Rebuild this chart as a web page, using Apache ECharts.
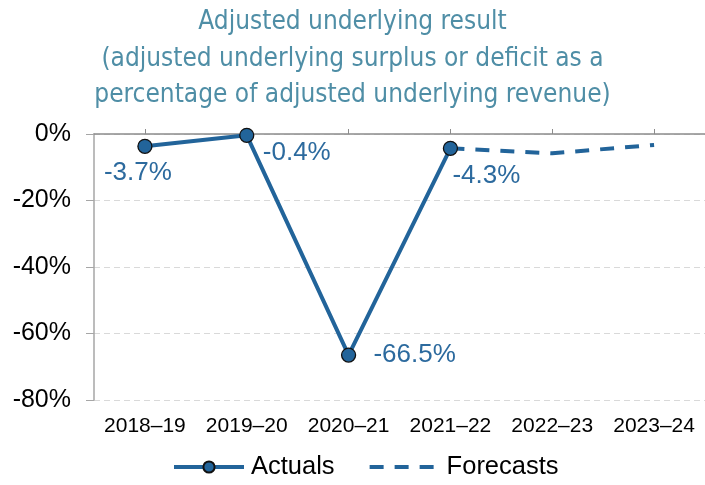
<!DOCTYPE html>
<html><head><meta charset="utf-8">
<script src="https://cdn.jsdelivr.net/npm/echarts@6/dist/echarts.min.js"></script>
<style>html,body{margin:0;padding:0;background:#fff}#c{width:705px;height:485px}</style>
</head><body><div id="c"></div>
<script>
const categories = ['2018–19','2019–20','2020–21','2021–22','2022–23','2023–24'];
const actuals = [-3.7, -0.4, -66.5, -4.3, null, null];
const forecasts = [null, null, null, -4.3, -5.8, -3.3];
const yTicks = [0, -20, -40, -60, -80];
const titleLines = ['Adjusted underlying result','(adjusted underlying surplus or deficit as a','percentage of adjusted underlying revenue)'];

const lineColor = '#22649a';
const labelColor = '#2c6a9e';
const labelOffsets = [[-7, 27], [50, 17], [66, 0], [36, 28]];

const chart = echarts.init(document.getElementById('c'), null, {renderer:'canvas'});
chart.setOption({
  animation: false,
  title: {
    text: titleLines.join('\n'), left: 'center', top: -1,
    textStyle: {color:'#4f8ea6', fontSize: 26, fontWeight: 'normal', fontFamily: 'DejaVu Sans Condensed, DejaVu Sans', lineHeight: 36.5}
  },
  legend: {
    bottom: 0, left: 167, itemWidth: 70, itemHeight: 14, itemGap: 33,
    textStyle: {fontSize: 25.5, color:'#000', fontFamily:'Liberation Sans, Arial', padding: [0,0,0,2]},
    lineStyle: {width: 4},
    data: [{name:'Actuals'}, {name:'Forecasts', itemStyle:{opacity:0}}]
  },
  grid: {left: 94, right: -4, top: 134, bottom: 85},
  xAxis: [{
    type: 'category', data: categories, position: 'bottom',
    axisLine: {show:false}, axisTick: {show:false},
    axisLabel: {interval: 0, fontSize: 21, color:'#000', margin: 16, fontFamily:'Liberation Sans, Arial'}
  },{
    type: 'category', data: categories, position: 'top',
    axisLine: {show:true, onZero:false, lineStyle:{color:'#8c8c8c', width:1.5}},
    axisTick: {show:true, interval: 0, alignWithLabel:true, length:5, lineStyle:{color:'#8c8c8c'}},
    axisLabel: {show:false}
  }],
  yAxis: {
    type: 'value', min: -80, max: 0, interval: 20,
    axisLine: {show:true, lineStyle:{color:'#a6a6a6', width:1.5}},
    axisTick: {show:true, length:8, lineStyle:{color:'#a6a6a6'}},
    splitLine: {show:true, lineStyle:{color:'#d9d9d9', type:[6,4]}},
    axisLabel: {fontSize: 25, color:'#000', margin: 23, fontFamily:'Liberation Sans, Arial',
      formatter: v => yTicks.includes(v) ? v + '%' : ''}
  },
  series: [{
    name: 'Forecasts', type: 'line', data: forecasts, showSymbol: false, symbol: 'none',
    lineStyle: {color: lineColor, width: 4, type: [14, 11]}, itemStyle: {color: lineColor}, z: 2
  },{
    name: 'Actuals', type: 'line', symbol: 'circle', symbolSize: 14,
    data: actuals.map((v, i) => v === null ? null : {
      value: v,
      label: {show: true, position: 'inside', offset: labelOffsets[i], formatter: p => p.value.toFixed(1) + '%'}
    }),
    lineStyle: {color: lineColor, width: 4},
    itemStyle: {color: lineColor, borderColor: '#111', borderWidth: 1.3},
    label: {color: labelColor, fontSize: 26, fontFamily:'Liberation Sans, Arial'},
    z: 3
  }]
});
</script></body></html>
